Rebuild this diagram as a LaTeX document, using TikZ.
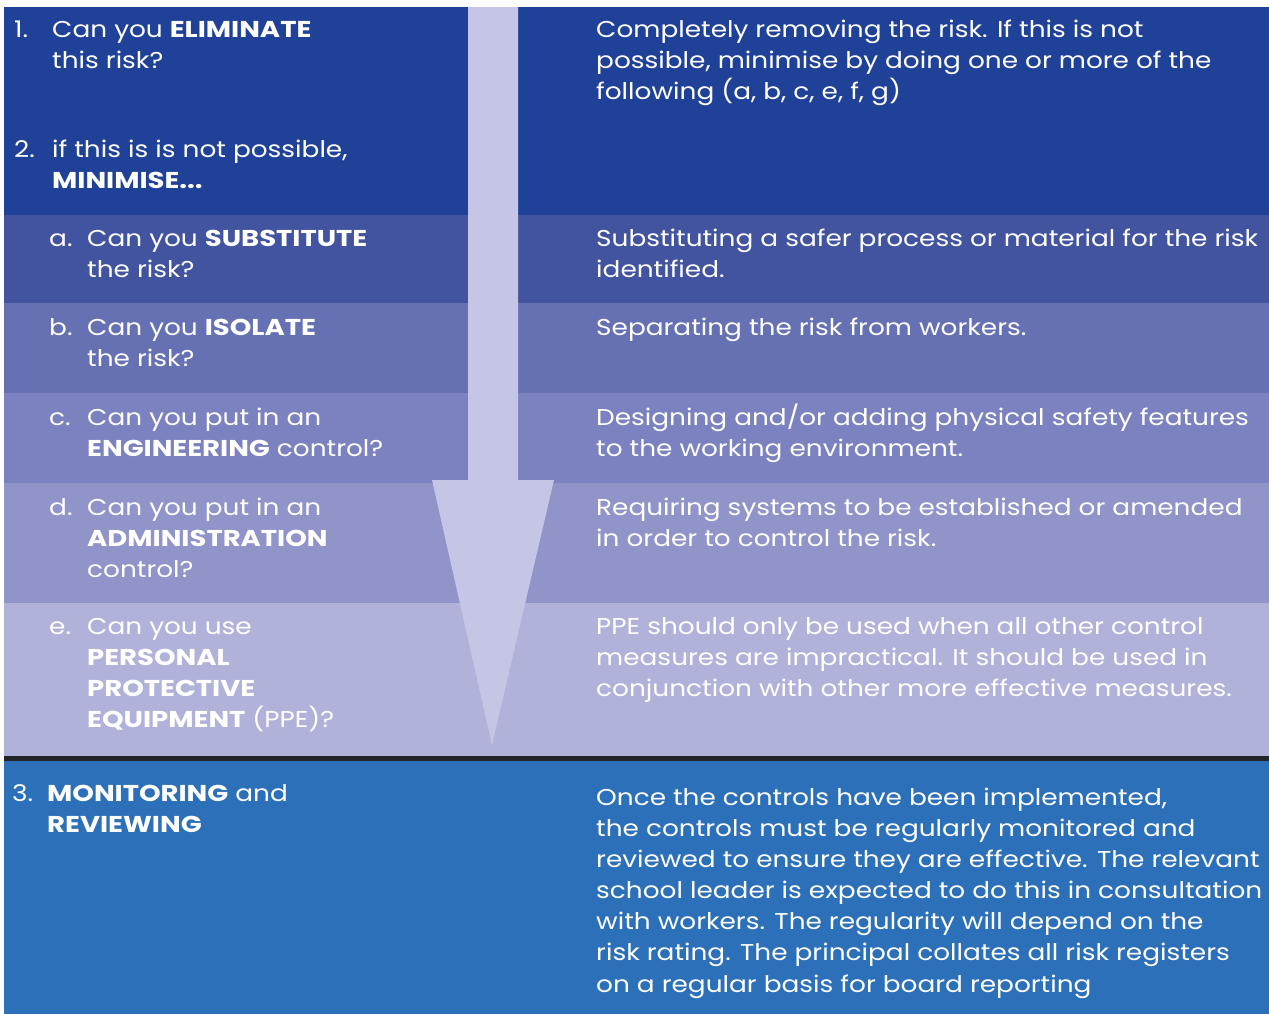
\documentclass[tikz,border=0pt]{standalone}
\usepackage{fontspec}
\setmainfont{Poppins}[FakeStretch=1.15, BoldFeatures={FakeStretch=1.2}]
\definecolor{rowone}{RGB}{32,65,152}
\definecolor{rowa}{RGB}{66,83,160}
\definecolor{rowb}{RGB}{102,113,180}
\definecolor{rowc}{RGB}{124,129,191}
\definecolor{rowd}{RGB}{144,148,201}
\definecolor{rowe}{RGB}{176,178,217}
\definecolor{arrowc}{RGB}{197,197,229}
\definecolor{rowthree}{RGB}{44,112,185}
\definecolor{darkline}{RGB}{35,35,42}
\newcommand\celltxt[1]{\begin{tabular}[t]{@{}l@{}}#1\end{tabular}}
\tikzset{
  txt/.style={anchor=base west, inner sep=0pt, text=white,
    font=\fontsize{23}{31.3}\selectfont},
}
\begin{document}
\begin{tikzpicture}[x=1bp,y=-1bp]
\useasboundingbox (0,0) rectangle (1269,1014);
\fill[white] (0,0) rectangle (1269,1014);
% rows
\fill[rowone] (4,7) rectangle (1269,215);
\fill[rowa] (4,215) rectangle (1269,303);
\fill[rowb] (4,303) rectangle (1269,393);
\fill[rowc] (4,393) rectangle (1269,483);
\fill[rowd] (4,483) rectangle (1269,603);
\fill[rowe] (4,603) rectangle (1269,757);
\fill[darkline] (4,756) rectangle (1269,761);
\fill[rowthree] (4,761) rectangle (1269,1014);
% arrow
\fill[arrowc] (468,7) -- (518,7) -- (518,480) -- (554,480) -- (492,745) -- (432,480) -- (468,480) -- cycle;
% row 1
\node[txt] (n1) at (14,37) {1.};
\node[txt] (l1) at (52,37) {\celltxt{Can you \textbf{ELIMINATE}\\this risk?}};
\node[txt] (n2) at (14,157) {2.};
\node[txt] (l2) at (52,157) {\celltxt{if this is is not possible,\\\textbf{MINIMISE...}}};
\node[txt] (r1) at (596,37) {\celltxt{Completely removing the risk. If this is not\\possible, minimise by doing one or more of the\\following (a, b, c, e, f, g)}};
% row a
\node[txt] (na) at (49,246) {a.};
\node[txt] (la) at (87,246) {\celltxt{Can you \textbf{SUBSTITUTE}\\the risk?}};
\node[txt] (ra) at (596,246) {\celltxt{Substituting a safer process or material for the risk\\identified.}};
% row b
\node[txt] (nb) at (49,335) {b.};
\node[txt] (lb) at (87,335) {\celltxt{Can you \textbf{ISOLATE}\\the risk?}};
\node[txt] (rb) at (596,335) {Separating the risk from workers.};
% row c
\node[txt] (nc) at (49,425) {c.};
\node[txt] (lc) at (87,425) {\celltxt{Can you put in an\\\textbf{ENGINEERING} control?}};
\node[txt] (rc) at (596,425) {\celltxt{Designing and/or adding physical safety features\\to the working environment.}};
% row d
\node[txt] (nd) at (49,515) {d.};
\node[txt] (ld) at (87,515) {\celltxt{Can you put in an\\\textbf{ADMINISTRATION}\\control?}};
\node[txt] (rd) at (596,515) {\celltxt{Requiring systems to be established or amended\\in order to control the risk.}};
% row e
\node[txt] (ne) at (49,634) {e.};
\node[txt] (le) at (87,634) {\celltxt{Can you use\\\textbf{PERSONAL}\\\textbf{PROTECTIVE}\\\textbf{EQUIPMENT} (PPE)?}};
\node[txt] (re) at (596,634) {\celltxt{PPE should only be used when all other control\\measures are impractical. It should be used in\\conjunction with other more effective measures.}};
% row 3
\node[txt] (n3) at (12,801) {3.};
\node[txt] (l3) at (47,801) {\celltxt{\textbf{MONITORING} and\\\textbf{REVIEWING}}};
\node[txt] (r3) at (596,805) {\celltxt{Once the controls have been implemented,\\the controls must be regularly monitored and\\reviewed to ensure they are effective. The relevant\\school leader is expected to do this in consultation\\with workers. The regularity will depend on the\\risk rating. The principal collates all risk registers\\on a regular basis for board reporting}};
\end{tikzpicture}
\end{document}
